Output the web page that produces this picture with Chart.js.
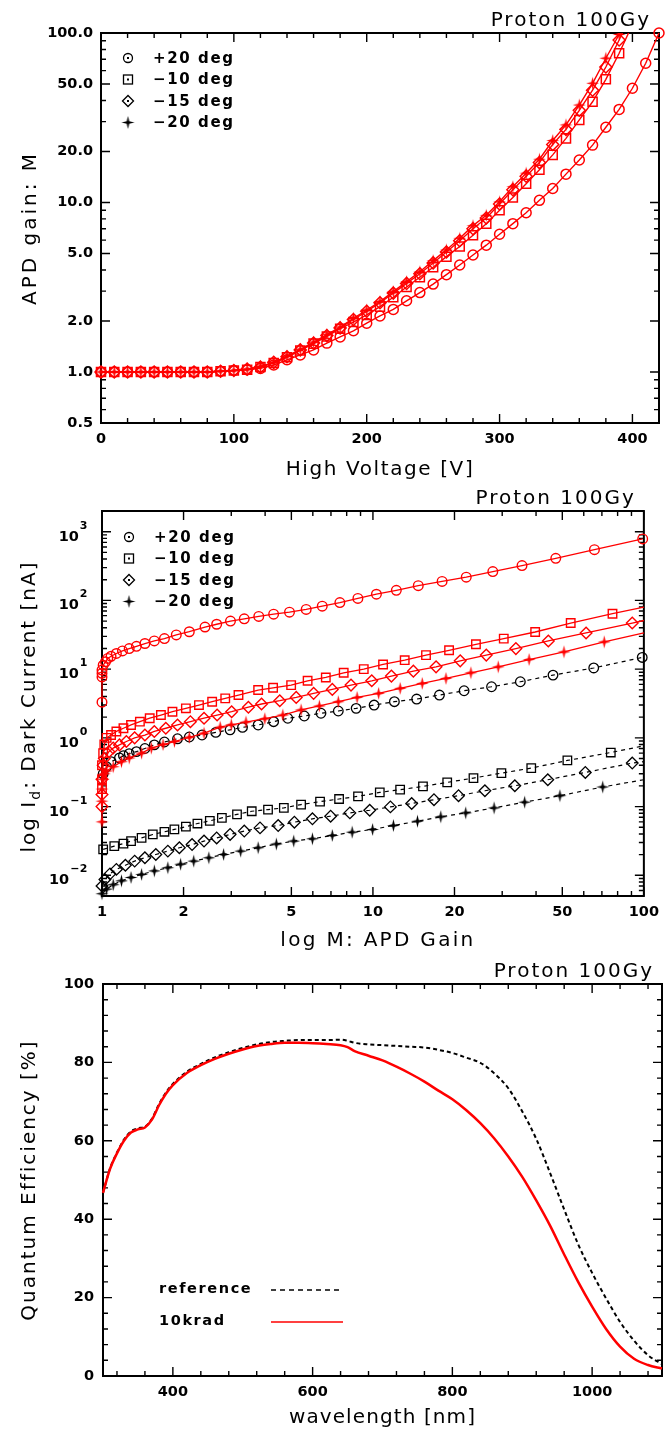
<!DOCTYPE html>
<html><head><meta charset="utf-8">
<script src="https://cdn.jsdelivr.net/npm/chart.js@4.4.1/dist/chart.umd.min.js"></script>
<style>
html,body{margin:0;padding:0;background:#fff;}
#wrap{position:relative;width:667px;height:1434px;background:#fff;}
.pc{position:absolute;left:0;width:667px;}
</style></head><body>
<div id="wrap">
<div class="pc" style="top:0;height:480px"><canvas id="c1"></canvas></div>
<div class="pc" style="top:480px;height:475px"><canvas id="c2"></canvas></div>
<div class="pc" style="top:955px;height:479px"><canvas id="c3"></canvas></div>
</div>
<script>
// ---------------- DATA ----------------
const legendLabels = ['+20 deg', '\u221210 deg', '\u221215 deg', '\u221220 deg'];
const chartTitle = 'Proton 100Gy';

// Panel 1: APD gain vs high voltage
const hv20 = [0,10,20,30,40,50,60,70,80,90,100,110,120,130,140,150,160,170,180,190,200,210,220,230,240,250,260,270,280,290,300,310,320,330,340,350,360,370,380,390,400,410,420];
const gainP20 = [1.0,1.0,1.0,1.0,1.0,1.0,1.0,1.0,1.0,1.01,1.02,1.03,1.05,1.10,1.18,1.26,1.35,1.48,1.61,1.75,1.94,2.14,2.34,2.63,2.94,3.30,3.75,4.28,4.90,5.60,6.50,7.50,8.70,10.3,12.1,14.7,17.8,21.8,27.8,35.4,47.2,66.3,100];
const hvCold = [0,10,20,30,40,50,60,70,80,90,100,110,120,130,140,150,160,170,180,190,200,210,220,230,240,250,260,270,280,290,300,310,320,330,340,350,360,370,380,390,400];
const gainM10 = [1.0,1.0,1.0,1.0,1.0,1.0,1.0,1.0,1.0,1.01,1.02,1.03,1.07,1.13,1.22,1.34,1.47,1.62,1.80,1.97,2.17,2.43,2.76,3.17,3.62,4.15,4.79,5.50,6.40,7.50,9.00,10.7,12.9,15.6,19.1,23.9,30.7,39.3,53.3,76.0,112];
const gainM15 = [1.0,1.0,1.0,1.0,1.0,1.0,1.0,1.0,1.0,1.01,1.02,1.04,1.07,1.14,1.23,1.35,1.48,1.64,1.82,2.04,2.28,2.56,2.92,3.33,3.80,4.40,5.10,5.95,7.00,8.10,9.80,11.9,14.3,17.2,22.0,27.0,35.0,46.0,63.0,91.0,135];
const gainM20 = [1.0,1.0,1.0,1.0,1.0,1.0,1.0,1.0,1.0,1.01,1.02,1.04,1.08,1.14,1.24,1.36,1.50,1.66,1.84,2.07,2.32,2.60,2.98,3.41,3.90,4.54,5.25,6.15,7.30,8.40,10.1,12.4,14.9,18.0,23.2,28.7,37.6,50.5,71.0,98.0,140];
const xTicks1 = [0,100,200,300,400];
const xTickLabels1 = ['0','100','200','300','400'];
const yTicks1 = [0.5,1,2,5,10,20,50,100];
const yTickLabels1 = ['0.5','1.0','2.0','5.0','10.0','20.0','50.0','100.0'];

// Panel 2: dark current vs gain (red = irradiated, black = before)
const redP20M = [1.0,1.0,1.0,1.0,1.01,1.03,1.05,1.08,1.13,1.19,1.26,1.34,1.44,1.56,1.70,1.88,2.10,2.40,2.65,2.98,3.35,3.79,4.30,4.92,5.67,6.50,7.55,8.80,10.3,12.2,14.7,18.0,22.1,27.7,35.5,47.3,65.7,99.0];
const redP20I = [3.3,7.7,8.7,9.7,11.4,12.8,14.3,15.4,16.9,18.4,19.9,21.5,23.6,25.7,27.8,31.5,35.0,41.0,45.0,50.0,54.0,58.5,63.0,67.5,74.0,82.5,93.0,107,123,140,164,189,218,263,321,410,548,784];
const redM10M = [1.0,1.0,1.0,1.01,1.02,1.04,1.08,1.13,1.20,1.28,1.38,1.50,1.65,1.82,2.04,2.28,2.55,2.85,3.19,3.77,4.28,4.99,5.74,6.70,7.80,9.25,10.9,13.1,15.7,19.1,24.0,30.4,39.7,53.7,76.6,100];
const redM10I = [0.18,0.25,0.40,0.60,0.80,1.00,1.10,1.24,1.38,1.54,1.72,1.93,2.15,2.40,2.69,3.00,3.36,3.76,4.20,4.96,5.35,5.86,6.77,7.57,8.85,10.0,11.7,13.5,16.0,18.8,23.0,27.8,34.7,46.9,64.1,80.0];
const redM15M = [1.0,1.0,1.0,1.01,1.02,1.06,1.10,1.16,1.23,1.32,1.44,1.56,1.72,1.90,2.12,2.38,2.66,3.01,3.47,3.88,4.53,5.21,6.04,7.08,8.30,9.90,11.7,14.1,17.1,21.0,26.2,33.7,44.4,61.2,90.6,100];
const redM15I = [0.10,0.15,0.25,0.40,0.50,0.63,0.71,0.79,0.885,1.00,1.10,1.24,1.38,1.54,1.72,1.93,2.15,2.40,2.79,3.11,3.47,3.88,4.44,5.07,5.86,6.77,7.92,9.35,10.8,13.2,16.0,19.9,25.7,33.6,46.9,51.0];
const redM20M = [1.0,1.0,1.0,1.01,1.02,1.04,1.10,1.18,1.26,1.40,1.52,1.68,1.85,2.10,2.38,2.73,3.00,3.40,3.99,4.65,5.43,6.34,7.45,8.74,10.5,12.6,15.2,18.6,23.0,29.0,37.7,50.7,71.4,100];
const redM20I = [0.06,0.12,0.18,0.25,0.30,0.33,0.38,0.45,0.51,0.60,0.71,0.80,0.885,1.02,1.17,1.43,1.55,1.70,1.90,2.15,2.55,2.91,3.36,3.88,4.44,5.25,6.20,7.33,8.85,10.8,13.8,17.8,24.9,33.6];
const blkP20M = [1.01,1.04,1.08,1.16,1.20,1.26,1.34,1.44,1.56,1.70,1.90,2.10,2.34,2.63,2.97,3.30,3.77,4.30,4.85,5.58,6.43,7.45,8.67,10.1,12.0,14.5,17.6,21.7,27.4,35.0,46.2,65.3,98.6];
const blkP20I = [0.30,0.38,0.45,0.51,0.55,0.59,0.63,0.70,0.79,0.87,0.97,1.03,1.10,1.20,1.31,1.42,1.54,1.72,1.93,2.08,2.28,2.46,2.69,3.00,3.36,3.67,4.20,4.85,5.54,6.55,8.19,10.4,14.8];
const blkM10M = [1.01,1.11,1.20,1.28,1.40,1.54,1.70,1.85,2.04,2.25,2.50,2.77,3.15,3.57,4.10,4.69,5.43,6.38,7.50,8.81,10.6,12.6,15.3,18.8,23.5,29.8,38.4,52.2,75.5,100];
const blkM10I = [0.0238,0.0266,0.029,0.0315,0.035,0.0393,0.043,0.0465,0.051,0.0567,0.062,0.0685,0.077,0.0855,0.0905,0.0957,0.107,0.118,0.129,0.141,0.161,0.176,0.197,0.225,0.260,0.307,0.363,0.469,0.612,0.766];
const blkM15M = [1.0,1.025,1.07,1.13,1.22,1.32,1.44,1.58,1.75,1.93,2.15,2.38,2.65,2.97,3.35,3.83,4.47,5.13,5.98,6.98,8.22,9.73,11.6,13.9,16.8,20.7,25.9,33.4,44.2,60.8,90.6,100];
const blkM15I = [0.0070,0.0087,0.0105,0.0122,0.0140,0.0161,0.0180,0.0201,0.0225,0.0252,0.0280,0.0315,0.0350,0.0393,0.0440,0.0490,0.0530,0.0593,0.0664,0.0725,0.0810,0.0885,0.0990,0.111,0.126,0.144,0.170,0.201,0.246,0.314,0.430,0.450];
const blkM20M = [1.0,1.04,1.10,1.18,1.28,1.40,1.56,1.75,1.95,2.18,2.48,2.81,3.25,3.77,4.40,5.10,5.98,7.08,8.38,9.97,11.9,14.6,17.8,22.0,28.0,36.3,49.0,70.5,100];
const blkM20I = [0.0054,0.0063,0.0073,0.0083,0.0093,0.0103,0.0116,0.0129,0.0145,0.0161,0.0180,0.0201,0.0225,0.0252,0.0285,0.0315,0.0340,0.0380,0.0425,0.0465,0.0530,0.0612,0.0710,0.0810,0.0957,0.116,0.144,0.193,0.246];
const xTicks2 = [1,2,5,10,20,50,100];
const xTickLabels2 = ['1','2','5','10','20','50','100'];
const yTicks2 = [0.01,0.1,1,10,100,1000];
const yTickBase2 = ['10','10','10','10','10','10'];
const yTickExp2 = ['\u22122','\u22121','0','1','2','3'];

// Panel 3: quantum efficiency vs wavelength
const wavelength = [300,310,320,330,340,350,360,370,380,390,400,420,440,460,480,500,520,540,560,580,600,620,640,650,660,680,700,720,740,760,780,800,820,840,860,880,900,920,940,960,980,1000,1020,1040,1060,1080,1100];
const qeReference = [46.7,52.9,57.0,60.3,62.4,63.2,63.6,65.6,69.3,72.3,74.5,77.6,79.6,81.3,82.6,83.7,84.6,85.2,85.5,85.7,85.7,85.7,85.8,85.5,85.0,84.6,84.4,84.2,84.0,83.8,83.2,82.4,81.2,79.9,77.2,73.4,67.5,60.5,51.7,42.5,33.6,26.3,19.8,13.8,9.0,5.3,3.0];
const qe10krad = [46.7,52.8,56.8,60.0,62.1,62.9,63.4,65.4,69.0,72.0,74.2,77.3,79.3,80.9,82.2,83.3,84.2,84.7,85.0,85.0,84.9,84.7,84.4,83.9,82.9,81.7,80.5,78.9,77.1,75.1,72.8,70.6,67.8,64.5,60.6,56.0,50.8,44.8,38.3,31.0,24.0,17.7,12.0,7.5,4.4,2.8,1.9];
const qeLegend = ['reference','10krad'];
const xTicks3 = [400,600,800,1000];
const xTickLabels3 = ['400','600','800','1000'];
const yTicks3 = [0,20,40,60,80,100];
const yTickLabels3 = ['0','20','40','60','80','100'];

// ---------------- STYLE / HELPERS ----------------
const RED = '#ff0000', BLK = '#000000';
const FONT = '"DejaVu Sans", sans-serif';
const TICKFONT = {family: FONT, size: 14.5, weight: 'bold'};

function range(a, b, step, skip) { const r = []; for (let v = a; v <= b + 1e-9; v += step) { if (!skip || !skip.some(s => Math.abs(s - v) < 1e-9)) r.push(+v.toFixed(6)); } return r; }
function logMinors(lo, hi) { const r = []; for (let e = -4; e <= 4; e++) { for (let k = 2; k <= 9; k++) { const v = k * Math.pow(10, e); if (v > lo * 1.0001 && v < hi * 0.9999) r.push(v); } } return r; }

function starImg(color) {
  const c = document.createElement('canvas'); const s = 15; c.width = s; c.height = s;
  const g = c.getContext('2d'); const cx = s / 2, cy = s / 2, R = 6.5, r = 1.8;
  g.beginPath();
  for (let i = 0; i < 8; i++) { const a = -Math.PI / 2 + i * Math.PI / 4; const rr = i % 2 ? r : R; const px = cx + rr * Math.cos(a), py = cy + rr * Math.sin(a); if (i) g.lineTo(px, py); else g.moveTo(px, py); }
  g.closePath(); g.fillStyle = color; g.fill();
  return c;
}
const starRed = starImg(RED), starBlk = starImg(BLK);

function pts(xs, ys) { return xs.map((x, i) => ({x: x, y: ys[i]})); }
function ser(xs, ys, color, style, radius, extra) {
  return Object.assign({
    data: pts(xs, ys), showLine: true, borderColor: color, borderWidth: 1.3,
    pointStyle: style, pointRadius: radius, pointHoverRadius: radius,
    pointBorderColor: color, pointBackgroundColor: 'rgba(0,0,0,0)', pointBorderWidth: 1.4,
    tension: 0, clip: false
  }, extra || {});
}
function noLastMarker(r, n) { return (ctx) => ctx.dataIndex === n - 1 ? 0 : r; }

function txt(ctx, s, x, y, o) {
  o = o || {};
  ctx.save();
  ctx.font = (o.weight || 'normal') + ' ' + (o.size || 20) + 'px ' + FONT;
  ctx.fillStyle = o.color || '#000'; ctx.textAlign = o.align || 'left'; ctx.textBaseline = o.baseline || 'alphabetic';
  ctx.letterSpacing = (o.spacing || 0) + 'px';
  ctx.fillText(s, x, y);
  ctx.restore();
}

function drawSym(ctx, kind, x, y) {
  ctx.save(); ctx.strokeStyle = BLK; ctx.fillStyle = BLK; ctx.lineWidth = 1.3; ctx.beginPath();
  if (kind === 'circle') { ctx.arc(x, y, 4.5, 0, Math.PI * 2); ctx.stroke(); ctx.fillRect(x - 1, y - 1, 2, 2); }
  else if (kind === 'rect') { ctx.strokeRect(x - 4.5, y - 4.5, 9, 9); ctx.fillRect(x - 1, y - 1, 2, 2); }
  else if (kind === 'rectRot') { ctx.moveTo(x - 5.5, y); ctx.lineTo(x, y - 5.5); ctx.lineTo(x + 5.5, y); ctx.lineTo(x, y + 5.5); ctx.closePath(); ctx.stroke(); ctx.fillRect(x - 1, y - 1, 2, 2); }
  else { ctx.drawImage(starBlk, x - starBlk.width / 2, y - starBlk.height / 2); }
  ctx.restore();
}

const deco = {
  id: 'deco',
  beforeDatasetsDraw(chart, args, o) {
    const ctx = chart.ctx, a = chart.chartArea, xs = chart.scales.x, ys = chart.scales.y;
    ctx.save(); ctx.strokeStyle = '#000'; ctx.lineWidth = 1.4; ctx.beginPath();
    const tx = (vals, len) => vals.forEach(v => { const p = xs.getPixelForValue(v); ctx.moveTo(p, a.bottom); ctx.lineTo(p, a.bottom - len); ctx.moveTo(p, a.top); ctx.lineTo(p, a.top + len); });
    const ty = (vals, len) => vals.forEach(v => { const p = ys.getPixelForValue(v); ctx.moveTo(a.left, p); ctx.lineTo(a.left + len, p); ctx.moveTo(a.right, p); ctx.lineTo(a.right - len, p); });
    tx(o.xMajor, 9); tx(o.xMinor, 5); ty(o.yMajor, 9); ty(o.yMinor, 5);
    ctx.stroke();
    ctx.lineWidth = 2; ctx.strokeRect(a.left, a.top, a.right - a.left, a.bottom - a.top);
    ctx.restore();
    if (o.supLabels) {
      const S = o.supLabels;
      S.values.forEach((v, i) => {
        const p = ys.getPixelForValue(v);
        const ex = a.left - 14;
        ctx.save();
        ctx.font = 'bold 11px ' + FONT; ctx.letterSpacing = '0.5px';
        const ew = ctx.measureText(S.exps[i]).width;
        ctx.restore();
        txt(ctx, S.exps[i], ex - ew, p - 3, {size: 11, weight: 'bold', spacing: 0.5, baseline: 'alphabetic'});
        txt(ctx, S.bases[i], ex - ew - 1, p + 9, {size: 14.5, weight: 'bold', align: 'right', baseline: 'alphabetic'});
      });
    }
  },
  afterDraw(chart, args, o) {
    const ctx = chart.ctx, a = chart.chartArea;
    txt(ctx, o.title, a.right - 8, a.top - 7, {size: 20, spacing: 2, align: 'right'});
    txt(ctx, o.xTitle, (a.left + a.right) / 2 + (o.xDX || 0), o.xTitleY, {size: 20, spacing: o.xSpacing, align: 'center'});
    ctx.save();
    ctx.translate(o.yTitleX, (a.top + a.bottom) / 2 + (o.yDY || 0)); ctx.rotate(-Math.PI / 2);
    const segs = o.yTitle;
    let total = 0;
    segs.forEach(s => { ctx.font = 'normal ' + s.size + 'px ' + FONT; ctx.letterSpacing = o.ySpacing + 'px'; s.w = ctx.measureText(s.t).width; total += s.w; });
    let x = -total / 2;
    segs.forEach(s => { ctx.font = 'normal ' + s.size + 'px ' + FONT; ctx.letterSpacing = o.ySpacing + 'px'; ctx.fillStyle = '#000'; ctx.textBaseline = 'alphabetic'; ctx.fillText(s.t, x, s.dy || 0); x += s.w; });
    ctx.restore();
    const L = o.legend;
    if (L.type === 'markers') {
      L.labels.forEach((lab, i) => {
        const y = a.top + L.y0 + i * L.dy;
        drawSym(ctx, L.styles[i], a.left + L.sx, y);
        txt(ctx, lab, a.left + L.tx, y + 1, {size: 15, weight: 'bold', spacing: 1.6, baseline: 'middle'});
      });
    } else {
      L.items.forEach((it, i) => {
        const y = L.ys[i];
        txt(ctx, it.label, L.tx, y, {size: 14.5, weight: 'bold', spacing: 1.6, baseline: 'middle'});
        ctx.save(); ctx.strokeStyle = it.color; ctx.lineWidth = it.width; ctx.setLineDash(it.dash);
        ctx.beginPath(); ctx.moveTo(L.lx0, y + 1); ctx.lineTo(L.lx1, y + 1); ctx.stroke(); ctx.restore();
      });
    }
  }
};

function axisX(type, min, max, ticks, labels, height, pad) {
  return { type: type, min: min, max: max, position: 'bottom',
    afterBuildTicks: s => { s.ticks = ticks.map(v => ({value: v})); },
    afterFit: s => { s.height = height; },
    grid: {display: false, drawTicks: false}, border: {display: false},
    ticks: {padding: pad, font: TICKFONT, color: '#000', maxRotation: 0, minRotation: 0, autoSkip: false, callback: (v, i) => labels[i]} };
}
function axisY(type, min, max, ticks, labels, width, pad) {
  return { type: type, min: min, max: max, position: 'left',
    afterBuildTicks: s => { s.ticks = ticks.map(v => ({value: v})); },
    afterFit: s => { s.width = width; },
    grid: {display: false, drawTicks: false}, border: {display: false},
    ticks: {display: !!labels, padding: pad, font: TICKFONT, color: '#000', autoSkip: false, callback: (v, i) => labels ? labels[i] : ''} };
}
const baseOpts = {animation: false, responsive: true, maintainAspectRatio: false, events: []};
const markerLegend = (y0) => ({type: 'markers', labels: legendLabels, styles: ['circle', 'rect', 'rectRot', 'star'], sx: 27, tx: 52, y0: y0, dy: 21.5});

// ---------------- PANEL 1 ----------------
const coldClip = {left: false, right: false, bottom: false, top: 0};
new Chart(document.getElementById('c1'), {
  type: 'scatter',
  data: {datasets: [
    ser(hv20, gainP20, RED, 'circle', 5, {pointBorderWidth: 1.5, borderWidth: 1.4}),
    ser(hvCold, gainM10, RED, 'rect', 6.4, {clip: coldClip, pointBorderWidth: 1.5, borderWidth: 1.4}),
    ser(hvCold, gainM15, RED, 'rectRot', 6, {clip: coldClip, pointBorderWidth: 1.5, borderWidth: 1.4}),
    ser(hvCold, gainM20, RED, starRed, 6, {clip: coldClip, borderWidth: 1.4})
  ]},
  options: Object.assign({}, baseOpts, {
    layout: {padding: {top: 33, right: 8, left: 0, bottom: 0}},
    scales: {
      x: axisX('linear', 0, 420, xTicks1, xTickLabels1, 57, 8),
      y: axisY('logarithmic', 0.5, 100, yTicks1, yTickLabels1, 101, 8)
    },
    plugins: {legend: {display: false}, tooltip: {enabled: false},
      deco: {title: chartTitle, xTitle: 'High Voltage [V]', xTitleY: 475, xSpacing: 1.6,
        yTitle: [{t: 'APD gain: M', size: 20}], yTitleX: 36, ySpacing: 3,
        xMajor: xTicks1, xMinor: range(20, 420, 20, xTicks1),
        yMajor: yTicks1, yMinor: logMinors(0.5, 100).filter(v => !yTicks1.some(t => Math.abs(t - v) < 1e-9)),
        legend: markerLegend(25)}}
  }),
  plugins: [deco]
});

// ---------------- PANEL 2 ----------------
const dashB = {borderDash: [4, 4], borderWidth: 1.2, pointBorderWidth: 1.3};
new Chart(document.getElementById('c2'), {
  type: 'scatter',
  data: {datasets: [
    ser(redP20M, redP20I, RED, 'circle', 4.8, {pointBorderWidth: 1.4}),
    ser(redM10M, redM10I, RED, 'rect', 6, {pointRadius: noLastMarker(6, redM10M.length)}),
    ser(redM15M, redM15I, RED, 'rectRot', 5.8, {pointRadius: noLastMarker(5.8, redM15M.length)}),
    ser(redM20M, redM20I, RED, starRed, 6, {pointRadius: noLastMarker(6, redM20M.length)}),
    ser(blkP20M, blkP20I, BLK, 'circle', 4.8, Object.assign({order: 2}, dashB)),
    ser(blkM10M, blkM10I, BLK, 'rect', 6, Object.assign({order: 2, pointRadius: noLastMarker(6, blkM10M.length)}, dashB)),
    ser(blkM15M, blkM15I, BLK, 'rectRot', 5.8, Object.assign({order: 2, pointRadius: noLastMarker(5.8, blkM15M.length)}, dashB)),
    ser(blkM20M, blkM20I, BLK, starBlk, 6, Object.assign({order: 2, pointRadius: noLastMarker(6, blkM20M.length)}, dashB))
  ]},
  options: Object.assign({}, baseOpts, {
    layout: {padding: {top: 31, right: 17, left: 0, bottom: 0}},
    scales: {
      x: axisX('logarithmic', 1, 100, xTicks2, xTickLabels2, 59, 8),
      y: axisY('logarithmic', 0.005, 2000, yTicks2, null, 102, 8)
    },
    plugins: {legend: {display: false}, tooltip: {enabled: false},
      deco: {title: chartTitle, xTitle: 'log M: APD Gain', xTitleY: 466, xSpacing: 2.3, xDX: 5,
        yTitle: [{t: 'log I', size: 20}, {t: 'd', size: 14, dy: 5}, {t: ': Dark Current [nA]', size: 20}], yTitleX: 35, ySpacing: 2.0, yDY: 3,
        supLabels: {values: yTicks2, bases: yTickBase2, exps: yTickExp2},
        xMajor: xTicks2, xMinor: logMinors(1, 100).filter(v => !xTicks2.some(t => Math.abs(t - v) < 1e-9)),
        yMajor: yTicks2, yMinor: logMinors(0.005, 2000),
        legend: markerLegend(26)}}
  }),
  plugins: [deco]
});

// ---------------- PANEL 3 ----------------
new Chart(document.getElementById('c3'), {
  type: 'scatter',
  data: {datasets: [
    {data: pts(wavelength, qe10krad), showLine: true, borderColor: RED, borderWidth: 2.5, pointRadius: 0, cubicInterpolationMode: 'monotone', clip: false, order: 1},
    {data: pts(wavelength, qeReference), showLine: true, borderColor: BLK, borderWidth: 2, borderDash: [4, 3], pointRadius: 0, cubicInterpolationMode: 'monotone', clip: false, order: 2}
  ]},
  options: Object.assign({}, baseOpts, {
    layout: {padding: {top: 29, right: 5, left: 0, bottom: 0}},
    scales: {
      x: axisX('linear', 300, 1100, xTicks3, xTickLabels3, 58, 8),
      y: axisY('linear', 0, 100, yTicks3, yTickLabels3, 103, 9)
    },
    plugins: {legend: {display: false}, tooltip: {enabled: false},
      deco: {title: chartTitle, xTitle: 'wavelength [nm]', xTitleY: 468, xSpacing: 1.1,
        yTitle: [{t: 'Quantum Efficiency [%]', size: 20}], yTitleX: 35, ySpacing: 2,
        xMajor: xTicks3, xMinor: range(320, 1080, 40, xTicks3),
        yMajor: yTicks3, yMinor: range(4, 96, 4, yTicks3),
        legend: {type: 'lines', tx: 159, lx0: 271, lx1: 343, ys: [334, 366],
          items: [{label: qeLegend[0], color: BLK, dash: [5, 4], width: 1.5}, {label: qeLegend[1], color: RED, dash: [], width: 1.6}]}}}
  }),
  plugins: [deco]
});
</script>
</body></html>
